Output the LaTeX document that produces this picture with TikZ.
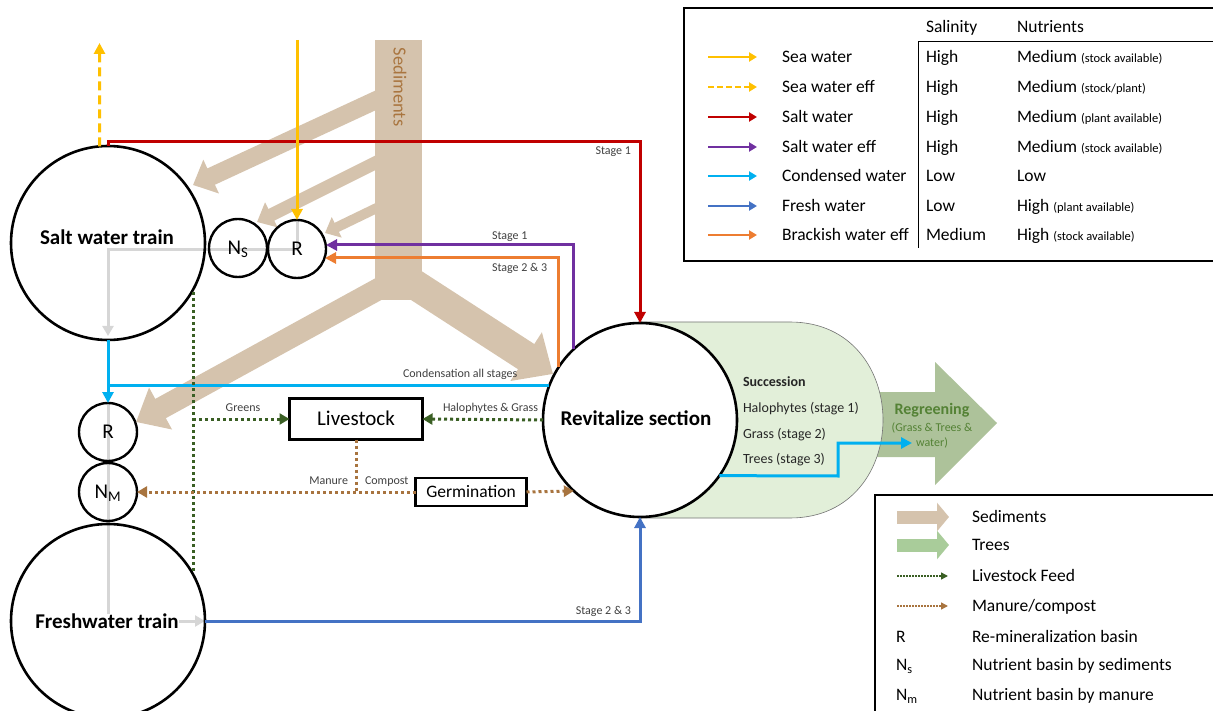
\documentclass[tikz,border=0pt]{standalone}
\usepackage{fontspec}
\setmainfont{Carlito}
\usetikzlibrary{arrows.meta,calc}
\definecolor{seaY}{HTML}{FFC000}
\definecolor{saltR}{HTML}{C00000}
\definecolor{purp}{HTML}{7030A0}
\definecolor{cond}{HTML}{00B0F0}
\definecolor{fresh}{HTML}{4472C4}
\definecolor{brack}{HTML}{ED7D31}
\definecolor{greyL}{HTML}{D6D6D6}
\definecolor{sed}{HTML}{D5C3AD}
\definecolor{sedtxt}{HTML}{A9753F}
\definecolor{feed}{HTML}{3A5F24}
\definecolor{manure}{HTML}{A8743F}
\definecolor{stad}{HTML}{E2EFD9}
\definecolor{regr}{HTML}{ADC29A}
\definecolor{regtxt}{HTML}{548235}
\definecolor{treeL}{HTML}{A9CC9A}
\definecolor{lbltxt}{HTML}{404040}
\newcommand{\fsz}[1]{\fontsize{#1}{#1}\selectfont}
\pgfdeclarelayer{bg}
\pgfsetlayers{bg,main}
\newcommand{\legrow}[6]{%
  \draw[#2] (708,#1) -- (757,#1);
  \node[anchor=west] (lg#6a) at (782,#1) {#3};
  \node[anchor=west] (lg#6b) at (926,#1) {#4};
  \node[anchor=west] (lg#6c) at (1017,#1) {#5};}
\newcommand{\nsm}[1]{{\fsz{12.5}#1}}
\begin{document}
\begin{tikzpicture}[x=1pt,y=-1pt,
  every node/.style={inner sep=0pt, outer sep=0pt, font=\fsz{17.5}, text height=12pt, text depth=1pt},
  f21/.style={font=\fsz{21}, text height=14.2pt, text depth=1pt},
  f12/.style={text height=7.5pt, text depth=1.2pt},
  f14/.style={text height=8.9pt, text depth=1.2pt},
  bigc/.style={circle, draw, line width=2.6pt, minimum size=194pt},
  smc/.style={circle, draw, line width=2.4pt, minimum size=58pt, f21},
  bigt/.style={f21, font=\fsz{21}\bfseries},
  boxn/.style={draw, line width=2.6pt},
  flow/.style={line width=3pt, -{Triangle[length=11pt,width=11pt]}},
  plain/.style={line width=3pt},
  greyc/.style={line width=3pt, greyL},
  lbl/.style={f12, font=\fsz{12}, text=lbltxt},
  feedl/.style={line width=3pt, feed, dash pattern=on 3pt off 3pt},
  manl/.style={line width=3pt, manure, dash pattern=on 3pt off 3pt},
  tip/.style={-{Triangle[length=10pt,width=11pt]}},
  lgarr/.style={line width=2.6pt, -{Triangle[length=8pt,width=9pt]}},
  succ/.style={f14, font=\fsz{14}, anchor=west, text=black!85},
]
\useasboundingbox (0,0) rectangle (1213,711);
\clip (0,0) rectangle (1213,711);

% ---------- nodes ----------
\node[bigc] (swt) at (108,243) {};
\node[bigt] (swtl) at (107,238) {Salt water train};
\node[smc] (Ns) at (238,248) {N\textsubscript{S}};
\node[smc] (R1) at (297,249) {R};
\node[smc] (R2) at (108,432) {R};
\node[smc] (Nm) at (108,492) {N\textsubscript{M}};
\node[bigc] (fwt) at (108,621) {};
\node[bigt, fill=white] (fwtl) at (107,622) {Freshwater train};
\node[bigc, fill=white] (rev) at (640,420) {};
\node[bigt] (revl) at (636,419) {Revitalize section};
\node[boxn, f21, minimum width=133pt, minimum height=41pt] (live) at (356,419) {Livestock};
\node[boxn, minimum width=111pt, minimum height=28pt] (germ) at (471,492) {Germination};

\coordinate (redc) at (640,142);
\coordinate (seaeff) at (99.5,43);
\coordinate (seain) at (297,40);
\coordinate (pE) at (326,245);
\coordinate (oE) at (325,258);
\coordinate (cw1) at (838,476);
\coordinate (regtip) at (912,443);
\coordinate (gtop) at (193,292);
\coordinate (gbot) at (193,572);
\coordinate (g1) at (297,250);
\coordinate (g2) at (108,250);
\coordinate (g3) at (108,336);
\coordinate (g4) at (108,621);

% ---------- background ----------
\begin{pgfonlayer}{bg}
  \fill[regr] (860,392) -- (935,392) -- (935,362) -- (997,423) -- (935,485) -- (935,457) -- (860,457) -- cycle;
  \filldraw[fill=stad, draw=black!55, line width=0.6pt] (640,322) -- (790,322) .. controls (914,322) and (914,518) .. (790,518) -- (640,518) -- cycle;
  \fill[sed] (375,40) rectangle (422,300);
  \draw[sed, line width=18pt, -{Triangle[length=20pt,width=36pt]}] (385,96) -- (193,185);
  \draw[sed, line width=13pt, -{Triangle[length=16pt,width=27pt]}] (385,158) -- (257,222);
  \draw[sed, line width=10pt, -{Triangle[length=13pt,width=22pt]}] (385,204) -- (325,233);
  \draw[sed, line width=22pt, -{Triangle[length=28pt,width=46pt]}] (395,280) -- (136,422);
  \draw[sed, line width=30pt, -{Triangle[length=32pt,width=56pt]}] (400,275) -- (553,374);
  \draw[greyc, -{Triangle[length=10pt,width=11pt]}] (R1.north) -- (g1) -- (g2) -- (g3);
  \draw[greyc, -{Triangle[length=10pt,width=11pt]}] (R2.north) -- (g4) -- (fwt.east);
\end{pgfonlayer}
\node[rotate=-90, text=sedtxt, font=\fsz{18.5}] (sedl) at (399,87) {Sediments};

% ---------- coloured flows ----------
\draw[flow, saltR] (swt.north) |- (redc) -- (rev.north);
\draw[line width=3pt, seaY, dash pattern=on 9pt off 5pt, -{Triangle[length=11pt,width=11pt]}] (swt.95) -- (seaeff);
\draw[flow, seaY] (seain) -- (R1.north);
\draw[flow, purp] (rev.133) |- (pE);
\draw[flow, brack] (rev.147) |- (oE);
\draw[plain, cond] (rev.159) -- (rev.159 -| swt.south);
\draw[flow, cond] (swt.south) -- (R2.north);
\draw[flow, fresh] (fwt.east) -| (rev.south);

\draw[feedl] (gtop) -- (gbot);
\draw[feedl, tip] (gtop |- live.west) -- (live.west);
\draw[feedl, tip] (rev.west) -- (live.east);
\draw[manl] (live.south) -- (live.south |- germ.west);
\draw[manl, tip] (germ.west) -- (Nm.east);
\draw[manl, tip] (germ.east) -- (rev.227);

% ---------- labels ----------
\node[lbl, anchor=east] (l1) at (631,151) {Stage 1};
\node[lbl, anchor=west] (l2) at (492,236) {Stage 1};
\node[lbl, anchor=west] (l3) at (492,268) {Stage 2 \& 3};
\node[lbl, anchor=west] (l4) at (403,374) {Condensation all stages};
\node[lbl] (l5) at (243,408) {Greens};
\node[lbl, anchor=west] (l6) at (443,408) {Halophytes \& Grass};
\node[lbl, anchor=east] (l7) at (348,481) {Manure};
\node[lbl, anchor=west] (l8) at (365,481) {Compost};
\node[lbl, anchor=east] (l9) at (631,611) {Stage 2 \& 3};

\node[succ, font=\fsz{14}\bfseries] (s0) at (743,383) {Succession};
\node[succ] (s1) at (743,409) {Halophytes (stage 1)};
\node[succ] (s2) at (743,435) {Grass (stage 2)};
\node[succ] (s3) at (743,460) {Trees (stage 3)};

\node[f14, font=\fsz{16}\bfseries, text=regtxt] (rg0) at (932,411) {Regreening};
\node[f12, font=\fsz{12}, text=regtxt] (rg1) at (932,428) {(Grass \& Trees \&};
\node[f12, font=\fsz{12}, text=regtxt] (rg2) at (932,443) {water)};
\draw[flow, cond] (rev.-35) -- (cw1) |- (regtip);

% ---------- legend 1 ----------
\draw[line width=1.5pt] (1220,8) -- (684,8) -- (684,261) -- (1220,261);
\draw[line width=1pt] (918,248) -- (918,42) -- (1220,42);
\node[anchor=west] (hd1) at (926,27) {Salinity};
\node[anchor=west] (hd2) at (1017,27) {Nutrients};
\legrow{57}{lgarr, seaY}{Sea water}{High}{Medium \nsm{(stock available)}}{a}
\legrow{87}{lgarr, seaY, dash pattern=on 6pt off 3pt}{Sea water eff}{High}{Medium \nsm{(stock/plant)}}{b}
\legrow{117}{lgarr, saltR}{Salt water}{High}{Medium \nsm{(plant available)}}{c}
\legrow{147}{lgarr, purp}{Salt water eff}{High}{Medium \nsm{(stock available)}}{d}
\legrow{176}{lgarr, cond}{Condensed water}{Low}{Low}{e}
\legrow{206}{lgarr, fresh}{Fresh water}{Low}{High \nsm{(plant available)}}{f}
\legrow{235}{lgarr, brack}{Brackish water eff}{Medium}{High \nsm{(stock available)}}{g}

% ---------- legend 2 ----------
\draw[line width=1.2pt] (875,720) -- (875,495) -- (1220,495);
\draw[sed, line width=13pt, -{Triangle[length=12pt,width=28pt]}] (897,517) -- (949,517);
\draw[treeL, line width=13pt, -{Triangle[length=12pt,width=28pt]}] (897,545) -- (949,545);
\draw[feed, line width=1.5pt, dash pattern=on 1.5pt off 1.5pt, -{Triangle[length=7pt,width=7pt]}] (897,576) -- (948,576);
\draw[manure, line width=1.5pt, dash pattern=on 1.5pt off 1.5pt, -{Triangle[length=7pt,width=7pt]}] (897,606) -- (948,606);
\node[anchor=west] (b1) at (972,517) {Sediments};
\node[anchor=west] (b2) at (972,545) {Trees};
\node[anchor=west] (b3) at (972,576) {Livestock Feed};
\node[anchor=west] (b4) at (972,606) {Manure/compost};
\node[anchor=west] (b5a) at (896,637) {R};
\node[anchor=west] (b5) at (972,637) {Re-mineralization basin};
\node[anchor=west] (b6a) at (896,665) {N\textsubscript{s}};
\node[anchor=west] (b6) at (972,665) {Nutrient basin by sediments};
\node[anchor=west] (b7a) at (896,695) {N\textsubscript{m}};
\node[anchor=west] (b7) at (972,695) {Nutrient basin by manure};
\end{tikzpicture}
\end{document}
